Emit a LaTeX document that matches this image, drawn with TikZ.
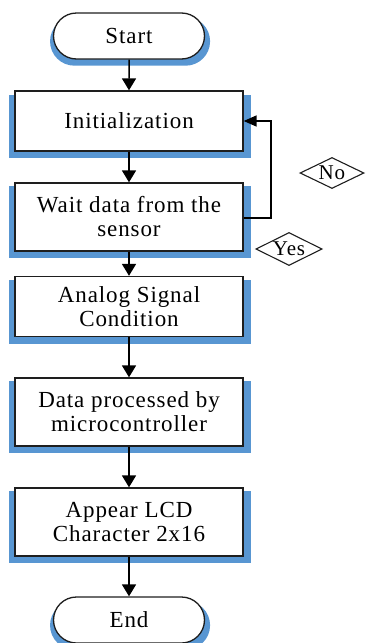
\documentclass[tikz,border=0pt]{standalone}
\usepackage{fontspec}
\setmainfont{Liberation Serif}[LetterSpace=4]
\usetikzlibrary{shapes.misc,shapes.geometric,arrows.meta,shadows}
\definecolor{shadowblue}{RGB}{88,150,210}
\definecolor{edgegray}{RGB}{30,30,30}
\tikzset{
  blueshadow/.style={general shadow={fill=shadowblue, shadow xshift=1pt, shadow yshift=-5pt, shadow scale=1.06}},
  term/.style={rounded rectangle, draw=edgegray, line width=1.3pt, fill=white, blueshadow,
    minimum width=151pt, minimum height=46pt, inner sep=0pt, font=\fontsize{23}{24}\selectfont},
  procbox/.style={rectangle, draw=edgegray, line width=1.3pt, fill=white, blueshadow,
    minimum width=228pt, minimum height=68pt, inner sep=0pt, align=center,
    font=\fontsize{23}{24}\selectfont},
  decbox/.style={diamond, draw=edgegray, line width=1.1pt, fill=white, aspect=2,
    inner sep=1pt, font=\fontsize{21}{22}\selectfont},
  flow/.style={draw=black, line width=1.5pt, -{Triangle[width=14pt,length=12pt]}}
}
\begin{document}
\begin{tikzpicture}[x=1pt,y=1pt]
\useasboundingbox (0,0) rectangle (365,-643);
\node[term] (start) at (129,-36) {Start};
\node[procbox, minimum height=60pt] (init) at (129,-121) {Initialization};
\node[procbox] (wait) at (129,-217) {Wait data from the\\sensor};
\node[procbox, minimum height=60pt] (analog) at (129,-306.5) {Analog Signal\\Condition};
\node[procbox] (data) at (129,-412) {Data processed by\\microcontroller};
\node[procbox] (appear) at (129,-522) {Appear LCD\\Character 2x16};
\node[term] (end) at (129,-620) {End};
\node[decbox, minimum width=64pt, minimum height=31pt] (no) at (332,-173) {No};
\node[decbox, minimum width=66pt, minimum height=32pt] (yes) at (289,-249) {Yes};
\coordinate (loopb) at (271,-218);
\draw[flow] (start) -- (init);
\draw[flow] (init) -- (wait);
\draw[flow] (wait) -- (analog);
\draw[flow] (analog) -- (data);
\draw[flow] (data) -- (appear);
\draw[flow] (appear) -- (end);
\draw[draw=black, line width=1.5pt, -{Triangle[width=11pt,length=13pt]}] (wait.east |- loopb) -- (loopb) |- (init.east);
\end{tikzpicture}
\end{document}
